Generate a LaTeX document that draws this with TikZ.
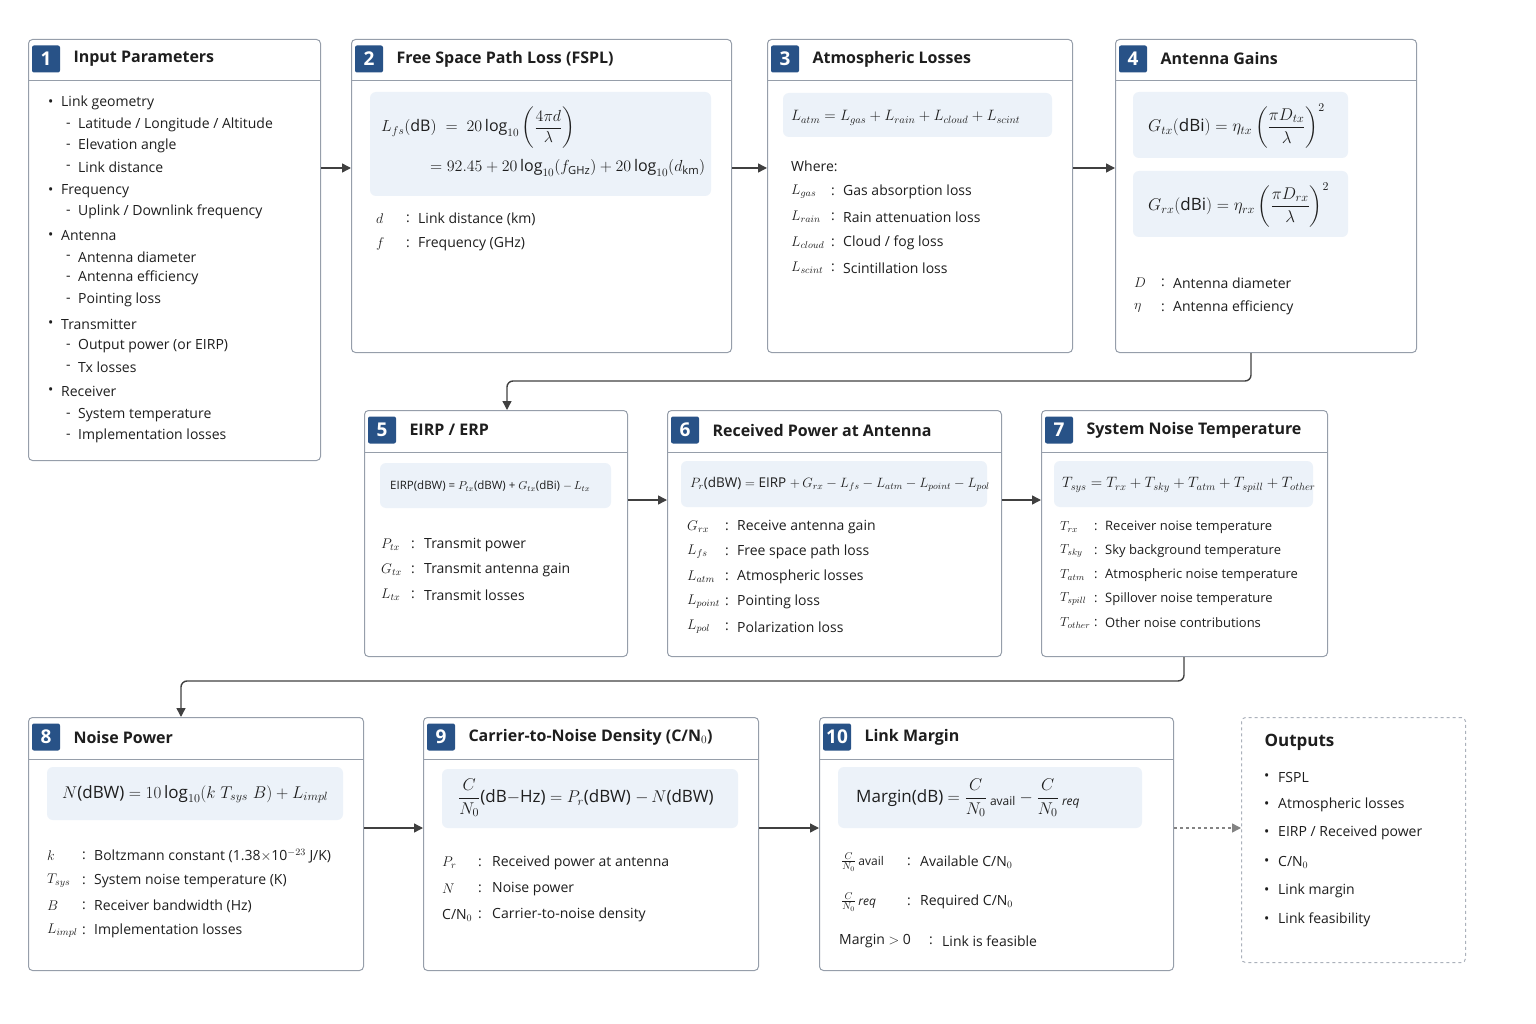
\RequirePackage{fix-cm}
\documentclass[tikz,border=0pt]{standalone}
\usepackage{amsmath}
\usepackage{fontspec}
\setmainfont{Open Sans}
\usetikzlibrary{arrows.meta,calc}
\definecolor{boxgray}{RGB}{150,158,170}
\definecolor{badgeblue}{RGB}{40,82,135}
\definecolor{panelblue}{RGB}{236,242,249}
\definecolor{ink}{RGB}{30,30,30}
\tikzset{
  box/.style={draw=boxgray, line width=1pt, rounded corners=4pt, fill=white, anchor=north west, inner sep=0pt},
  outbox/.style={box, dashed, draw=boxgray!80},
  panel/.style={fill=panelblue, rounded corners=6pt, draw=none},
  badge/.style={fill=badgeblue, text=white, rounded corners=2pt, minimum width=28pt, minimum height=27pt, inner sep=0pt, font=\fontsize{19}{20}\selectfont\bfseries},
  title/.style={anchor=west, text=ink, font=\fontsize{16}{19}\selectfont\bfseries},
  txt/.style={anchor=west, text=ink, inner sep=0pt, font=\fontsize{14}{17}\selectfont},
  small/.style={txt, font=\fontsize{13}{16}\selectfont},
  flow/.style={-{Triangle[length=9pt,width=9pt]}, line width=1.4pt, draw=ink!85},
}
% stage box: name, x, y, w, h, number, title
\newcommand\stage[7]{%
  \node[box, minimum width=#4pt, minimum height=#5pt] (#1) at (#2,#3) {};
  \draw[boxgray, line width=1pt] ([yshift=-42pt]#1.north west) -- ([yshift=-42pt]#1.north east);
  \node[badge] (#1n) at ([xshift=18pt,yshift=-20pt]#1.north west) {#6};
  \node[title] (#1t) at ([xshift=42pt,yshift=-20pt]#1.north west) {#7};
}
% definition row: y, symbol x, colon x, text x, symbol, text
\newcommand\defrow[6]{%
  \node[txt] at (#2,#1) {#5};
  \node[txt] at (#3,#1) {:};
  \node[txt] at (#4,#1) {#6};
}
\newcommand\lst[3]{\node[txt] at (48,#1) {•}; \node[txt] at (61,#1) {#2};}
\newcommand\sub[2]{\node[txt] at (66,#1) {-}; \node[txt] at (78,#1) {#2};}
\begin{document}
\begin{tikzpicture}[x=1pt,y=-1pt]
\useasboundingbox (0,0) rectangle (1536,1024);

% boxes
\stage{inp}{28}{39}{292}{421}{1}{Input Parameters}
\stage{fspl}{351}{39}{380}{313}{2}{Free Space Path Loss (FSPL)}
\stage{atm}{767}{39}{305}{313}{3}{Atmospheric Losses}
\stage{ant}{1115}{39}{301}{313}{4}{Antenna Gains}
\stage{eirp}{364}{410}{263}{246}{5}{EIRP / ERP}
\stage{rx}{667}{410}{334}{246}{6}{Received Power at Antenna}
\stage{tsys}{1041}{410}{286}{246}{7}{System Noise Temperature}
\stage{np}{28}{717}{335}{253}{8}{Noise Power}
\stage{cn}{423}{717}{335}{253}{9}{Carrier-to-Noise Density (C/N$_0$)}
\stage{lm}{819}{717}{354}{253}{10}{Link Margin}
\node[outbox, minimum width=224pt, minimum height=245pt] (out) at (1241,717) {};

% 1 input parameters
\lst{103}{Link geometry}{}
\sub{125}{Latitude / Longitude / Altitude}
\sub{146}{Elevation angle}
\sub{167}{Link distance}
\lst{191}{Frequency}{}
\sub{212}{Uplink / Downlink frequency}
\lst{236}{Antenna}{}
\sub{257}{Antenna diameter}
\sub{278}{Antenna efficiency}
\sub{300}{Pointing loss}
\lst{324}{Transmitter}{}
\sub{346}{Output power (or EIRP)}
\sub{367}{Tx losses}
\lst{391}{Receiver}{}
\sub{415}{System temperature}
\sub{436}{Implementation losses}

% 2 fspl
\fill[panel] (370,92) rectangle (711,196);
\node[txt, font=\fontsize{16}{19}\selectfont] at (381,128) {$L_{fs}(\text{dB}) \;=\; 20\log_{10}\left(\dfrac{4\pi d}{\lambda}\right)$};
\node[txt, font=\fontsize{16}{19}\selectfont] at (430,168) {$=92.45+20\log_{10}(f_{\text{GHz}})+20\log_{10}(d_{\text{km}})$};
\defrow{219}{376}{406}{418}{$d$}{Link distance (km)}
\defrow{244}{376}{406}{418}{$f$}{Frequency (GHz)}

% 3 atmospheric
\fill[panel] (783,93) rectangle (1052,137);
\node[txt, font=\fontsize{15}{18}\selectfont] at (791,118) {$L_{atm} = L_{gas}+L_{rain}+L_{cloud}+L_{scint}$};
\node[txt] at (791,166) {Where:};
\defrow{192}{791}{831}{843}{$L_{gas}$}{Gas absorption loss}
\defrow{217}{791}{831}{843}{$L_{rain}$}{Rain attenuation loss}
\defrow{243}{791}{831}{843}{$L_{cloud}$}{Cloud / fog loss}
\defrow{268}{791}{831}{843}{$L_{scint}$}{Scintillation loss}

% 4 antenna gains
\fill[panel] (1133,92) rectangle (1348,158);
\fill[panel] (1133,171) rectangle (1348,237);
\node[txt, font=\fontsize{17}{20}\selectfont] at (1148,126) {$G_{tx}(\text{dBi}) = \eta_{tx}\left(\dfrac{\pi D_{tx}}{\lambda}\right)^{2}$};
\node[txt, font=\fontsize{17}{20}\selectfont] at (1148,205) {$G_{rx}(\text{dBi}) = \eta_{rx}\left(\dfrac{\pi D_{rx}}{\lambda}\right)^{2}$};
\defrow{283}{1134}{1161}{1173}{$D$}{Antenna diameter}
\defrow{308}{1134}{1161}{1173}{$\eta$}{Antenna efficiency}

% 5 eirp
\fill[panel] (380,463) rectangle (611,508);
\node[txt, font=\fontsize{11.5}{14}\selectfont] at (390,486) {EIRP(dBW) = $P_{tx}$(dBW) + $G_{tx}$(dBi) $-\,L_{tx}$};
\defrow{545}{381}{411}{424}{$P_{tx}$}{Transmit power}
\defrow{570}{381}{411}{424}{$G_{tx}$}{Transmit antenna gain}
\defrow{595}{381}{411}{424}{$L_{tx}$}{Transmit losses}

% 6 received power
\fill[panel] (681,461) rectangle (987,507);
\node[txt, font=\fontsize{13.5}{16}\selectfont] at (690,484) {$P_r$(dBW) $=$ EIRP $+\,G_{rx}-L_{fs}-L_{atm}-L_{point}-L_{pol}$};
\defrow{527}{687}{725}{737}{$G_{rx}$}{Receive antenna gain}
\defrow{552}{687}{725}{737}{$L_{fs}$}{Free space path loss}
\defrow{577}{687}{725}{737}{$L_{atm}$}{Atmospheric losses}
\defrow{602}{687}{725}{737}{$L_{point}$}{Pointing loss}
\defrow{627}{687}{725}{737}{$L_{pol}$}{Polarization loss}

% 7 system noise temperature
\fill[panel] (1054,461) rectangle (1313,507);
\node[txt, font=\fontsize{15}{18}\selectfont] at (1062,485) {$T_{sys}=T_{rx}+T_{sky}+T_{atm}+T_{spill}+T_{other}$};
\tikzset{txt/.append style={font=\fontsize{13}{16}\selectfont}}
\defrow{527}{1060}{1094}{1105}{$T_{rx}$}{Receiver noise temperature}
\defrow{551}{1060}{1094}{1105}{$T_{sky}$}{Sky background temperature}
\defrow{575}{1060}{1094}{1105}{$T_{atm}$}{Atmospheric noise temperature}
\defrow{599}{1060}{1094}{1105}{$T_{spill}$}{Spillover noise temperature}
\defrow{623}{1060}{1094}{1105}{$T_{other}$}{Other noise contributions}
\tikzset{txt/.append style={font=\fontsize{14}{17}\selectfont}}

% 8 noise power
\fill[panel] (47,767) rectangle (343,820);
\node[txt, font=\fontsize{17}{20}\selectfont] at (62,794) {$N$(dBW) $=10\log_{10}(k\;T_{sys}\;B)+L_{impl}$};
\defrow{856}{47}{82}{94}{$k$}{Boltzmann constant (1.38$\times$10$^{-23}$ J/K)}
\defrow{881}{47}{82}{94}{$T_{sys}$}{System noise temperature (K)}
\defrow{906}{47}{82}{94}{$B$}{Receiver bandwidth (Hz)}
\defrow{931}{47}{82}{94}{$L_{impl}$}{Implementation losses}

% 9 carrier-to-noise density
\fill[panel] (442,769) rectangle (738,828);
\node[txt, font=\fontsize{17}{20}\selectfont] at (458,798) {$\dfrac{C}{N_0}$(dB$-$Hz) $=P_r$(dBW) $-\,N$(dBW)};
\defrow{863}{442}{478}{492}{$P_r$}{Received power at antenna}
\defrow{889}{442}{478}{492}{$N$}{Noise power}
\defrow{915}{442}{478}{492}{C/N$_0$}{Carrier-to-noise density}

% 10 link margin
\fill[panel] (838,767) rectangle (1142,828);
\node[txt, font=\fontsize{17}{20}\selectfont] at (856,798) {Margin(dB) $=\dfrac{C}{N_0}{}_{\text{\fontsize{12}{14}\selectfont\ avail}}-\dfrac{C}{N_0}{}_{\text{\fontsize{12}{14}\selectfont\itshape\ req}}$};
\defrow{862}{841}{907}{920}{$\frac{C}{N_0}$\,{\fontsize{12}{14}\selectfont avail}}{Available C/N$_0$}
\defrow{902}{841}{907}{920}{$\frac{C}{N_0}$\,{\fontsize{12}{14}\selectfont\itshape req}}{Required C/N$_0$}
\defrow{941}{839}{929}{942}{Margin $>$ 0}{Link is feasible}

% outputs
\node[title, font=\fontsize{17}{20}\selectfont\bfseries] at (1261,742) {Outputs};
\foreach \y/\t in {777/{FSPL}, 805/{Atmospheric losses}, 833/{EIRP / Received power}, 862/{C/N$_0$}, 891/{Link margin}, 920/{Link feasibility}}{
  \node[txt] at (1264,\y) {•};
  \node[txt] at (1278,\y) {\t};
}

% connectors
\draw[flow] (inp.east |- 0,168) -- (fspl.west |- 0,168);
\draw[flow] (fspl.east |- 0,168) -- (atm.west |- 0,168);
\draw[flow] (atm.east |- 0,168) -- (ant.west |- 0,168);
\draw[flow, rounded corners=6pt] (ant.south -| 1251,0) -- (1251,381) -- (507,381) -- (eirp.north -| 507,0);
\draw[flow] (eirp.east |- 0,500) -- (rx.west |- 0,500);
\draw[flow] (rx.east |- 0,500) -- (tsys.west |- 0,500);
\draw[flow, rounded corners=6pt] (tsys.south -| 1184,0) -- (1184,681) -- (181,681) -- (np.north -| 181,0);
\draw[flow] (np.east |- 0,828) -- (cn.west |- 0,828);
\draw[flow] (cn.east |- 0,828) -- (lm.west |- 0,828);
\draw[flow, dashed, draw=ink!55] (lm.east |- 0,828) -- (out.west |- 0,828);
\end{tikzpicture}
\end{document}
